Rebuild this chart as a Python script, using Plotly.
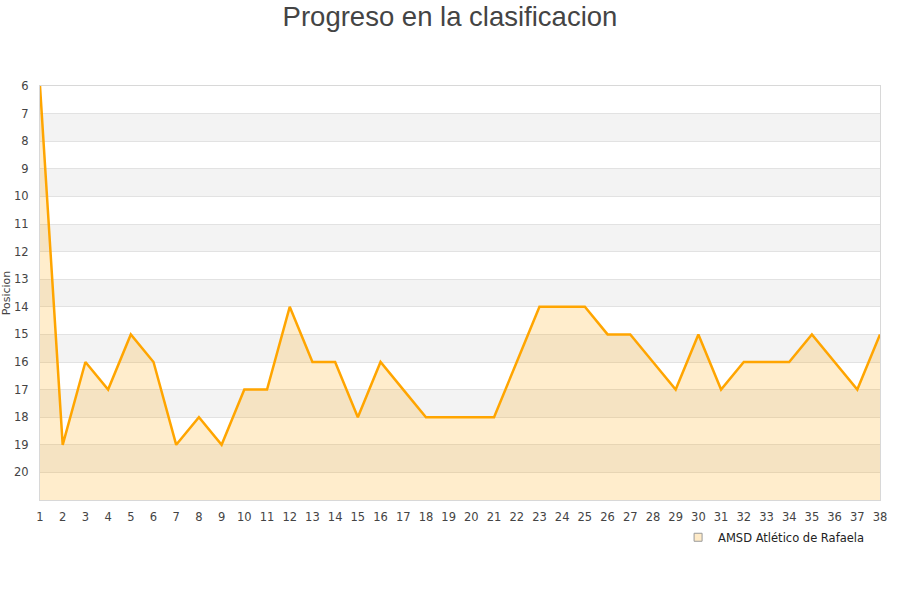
import plotly.graph_objects as go

jornadas = list(range(1, 39))
posiciones = [6, 19, 16, 17, 15, 16, 19, 18, 19, 17, 17, 14, 16, 16, 18, 16, 17, 18, 18, 18,
              18, 16, 14, 14, 14, 15, 15, 16, 17, 15, 17, 16, 16, 16, 15, 16, 17, 15]
equipo = "AMSD Atlético de Rafaela"
y_ticks = list(range(6, 21))

fig = go.Figure()

# base invisible en el fondo para rellenar hasta abajo
fig.add_trace(go.Scatter(x=jornadas, y=[21] * len(jornadas), mode="lines",
                         line=dict(width=0), showlegend=False, hoverinfo="skip"))
fig.add_trace(go.Scatter(x=jornadas, y=posiciones, mode="lines", fill="tonexty",
                         fillcolor="rgba(255,165,0,0.2)",
                         line=dict(color="#FFA500", width=2.5), showlegend=False))
# entrada de leyenda
fig.add_trace(go.Scatter(x=[None], y=[None], mode="markers", name=equipo,
                         marker=dict(symbol="square", size=8, color="#FFEBC8",
                                     line=dict(color="#999999", width=1))))

# bandas alternas
for b in range(7, 21, 2):
    fig.add_shape(type="rect", xref="paper", x0=0, x1=1, yref="y", y0=b, y1=b + 1,
                  fillcolor="#F3F3F3", line=dict(width=0), layer="below")

fig.update_layout(
    width=900, height=600,
    title=dict(text="Progreso en la clasificacion", x=0.5, xanchor="center", y=0.988, yanchor="top",
               font=dict(family="Liberation Sans, Arial", size=27.5, color="#444444")),
    margin=dict(l=40, r=20, t=86, b=100),
    plot_bgcolor="white", paper_bgcolor="white",
    font=dict(family="DejaVu Sans", size=11.5, color="#444444"),
    showlegend=True,
    legend=dict(x=0.987, xanchor="right", y=-0.09, yanchor="middle",
                font=dict(family="DejaVu Sans", size=11.5, color="#222222")),
    hovermode=False,
)
fig.update_xaxes(range=[1, 38], tickmode="array", tickvals=jornadas, showgrid=False,
                 zeroline=False, showline=True, linecolor="#D8D8D8", mirror=True,
                 ticks="", ticklabelstandoff=6)
fig.update_yaxes(range=[21, 6], tickmode="array", tickvals=y_ticks, showgrid=True,
                 gridcolor="#E2E2E2", zeroline=False, showline=True, linecolor="#D8D8D8",
                 mirror=True, ticks="", ticklabelstandoff=8, automargin=False,
                 title=dict(text="Posicion", font=dict(size=11), standoff=1))

fig.write_html("out.html", config={"displayModeBar": False},
               post_script="document.body.style.margin='0px';")
